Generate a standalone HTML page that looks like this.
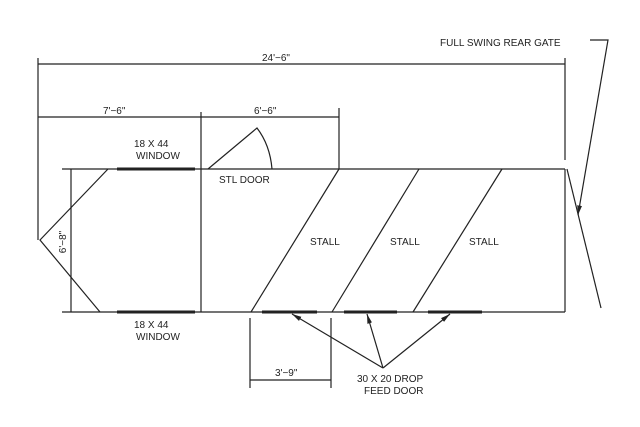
<!DOCTYPE html>
<html><head><style>body{margin:0;background:#fff}svg{display:block}text{font-family:"Liberation Sans",sans-serif;font-size:10px;fill:#222}</style></head><body>
<svg width="640" height="427" viewBox="0 0 640 427" stroke="#222" stroke-width="1.2" fill="none">
<defs><marker id="a" markerWidth="8" markerHeight="6" refX="8" refY="3" orient="auto"><path d="M0,1 L8,3 L0,5z" fill="#222" stroke="none"/></marker></defs>
<!-- body -->
<line x1="62" y1="169" x2="565" y2="169"/>
<line x1="62" y1="312" x2="565" y2="312"/>
<polyline points="108,169 40,240 100,312"/>
<line x1="565" y1="169" x2="565" y2="312"/>
<line x1="201" y1="112" x2="201" y2="312"/>
<line x1="71" y1="169" x2="71" y2="312"/>
<!-- windows and feed doors -->
<g stroke-width="3"><line x1="117" y1="169" x2="195" y2="169"/><line x1="117" y1="312" x2="195" y2="312"/>
<line x1="262" y1="312" x2="317" y2="312"/><line x1="344" y1="312" x2="397" y2="312"/><line x1="428" y1="312" x2="482" y2="312"/></g>
<!-- stalls -->
<line x1="339" y1="169" x2="251" y2="312"/><line x1="419" y1="169" x2="332" y2="312"/><line x1="502" y1="169" x2="413" y2="312"/>
<!-- door -->
<path d="M208,169 L257,128 Q270,145 272,169"/>
<!-- dims -->
<line x1="38" y1="58" x2="38" y2="240"/><line x1="565" y1="58" x2="565" y2="160"/>
<line x1="38" y1="64" x2="565" y2="64"/>
<line x1="38" y1="117" x2="339" y2="117"/>
<line x1="339" y1="108" x2="339" y2="169"/>
<line x1="250" y1="318" x2="250" y2="388"/><line x1="331" y1="318" x2="331" y2="388"/>
<line x1="250" y1="380" x2="331" y2="380"/>
<!-- arrows -->
<line x1="383" y1="368" x2="292" y2="314" marker-end="url(#a)"/>
<line x1="383" y1="368" x2="367" y2="314" marker-end="url(#a)"/>
<line x1="383" y1="368" x2="450" y2="314" marker-end="url(#a)"/>
<!-- gate -->
<line x1="567" y1="169" x2="601" y2="308"/>
<polyline points="590,40 608,40 578,215" marker-end="url(#a)"/>
<g stroke="none">
<text x="262" y="61">24'−6"</text>
<text x="103" y="114">7'−6"</text>
<text x="254" y="114">6'−6"</text>
<text x="134" y="147">18 X 44</text><text x="136" y="159">WINDOW</text>
<text x="134" y="328">18 X 44</text><text x="136" y="340">WINDOW</text>
<text x="219" y="183">STL DOOR</text>
<text x="310" y="245">STALL</text><text x="390" y="245">STALL</text><text x="469" y="245">STALL</text>
<text x="275" y="376">3'−9"</text>
<text x="357" y="382">30 X 20 DROP</text><text x="364" y="394">FEED DOOR</text>
<text x="440" y="46">FULL SWING REAR GATE</text>
<text transform="translate(66,242) rotate(-90)" text-anchor="middle">6'−8"</text>
</g>
</svg></body></html>
